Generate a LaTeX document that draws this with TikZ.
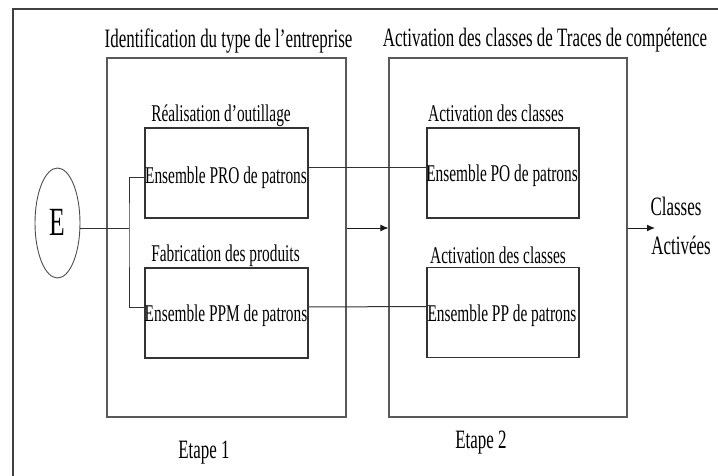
\documentclass[tikz,border=0pt]{standalone}
\usepackage{fontspec}
\setmainfont[FakeStretch=0.64]{Liberation Serif}
\usetikzlibrary{arrows.meta,shapes.geometric}
\begin{document}
\begin{tikzpicture}[x=1pt,y=-1pt,
  frame/.style={draw=black!75, line width=1.4pt},
  bigbox/.style={draw=black!65, line width=1.1pt, inner sep=0pt, minimum height=359pt},
  setbox/.style={draw=black!80, line width=1.1pt, inner sep=0pt, minimum height=90pt},
  conn/.style={draw=black!80, line width=1pt},
  arr/.style={draw=black!90, line width=1pt, -{Latex[length=8pt,width=7pt]}},
  txt/.style={anchor=base, inner sep=0pt, font=\fontsize{24}{28}\selectfont},
  big/.style={anchor=base, inner sep=0pt, font=\fontsize{26.5}{30}\selectfont}]
\useasboundingbox (0,0) rectangle (718,476);
\fill[white] (0,0) rectangle (718,476);
\draw[frame] (13,476) -- (13,9) -- (718,9);

\node[bigbox, minimum width=239pt] (b1) at (226.5,237.5) {};
\node[bigbox, minimum width=238pt] (b2) at (508,237.5) {};
\node[setbox, minimum width=163pt] (pro) at (226.5,173) {};
\node[setbox, minimum width=163pt] (ppm) at (226.5,313) {};
\node[setbox, minimum width=152pt] (po) at (503,173) {};
\node[setbox, minimum width=152pt] (pp) at (503,312.5) {};

\node[big] (t1) at (228.5,48) {Identification du type de l’entreprise};
\node[big] (t2) at (545,47) {Activation des classes de Traces de compétence};
\node[txt] (l1) at (221,122) {Réalisation d’outillage};
\node[txt] (s1) at (226,183) {Ensemble PRO de patrons};
\node[txt] (l2) at (225.5,261) {Fabrication des produits};
\node[txt] (s2) at (226,321) {Ensemble PPM de patrons};
\node[txt] (l3) at (496,122) {Activation des classes};
\node[txt] (s3) at (502,182) {Ensemble PO de patrons};
\node[txt] (l4) at (498,263) {Activation des classes};
\node[txt] (s4) at (502,321) {Ensemble PP de patrons};
\node[big] (e1) at (204,458) {Etape 1};
\node[big] (e2) at (481,448) {Etape 2};
\node[big] (c1) at (676,215) {Classes};
\node[big] (c2) at (681,254) {Activées};

\node[ellipse, draw=black!70, line width=0.9pt, minimum width=45pt, minimum height=110pt, inner sep=0pt] (E) at (57.5,223) {};
\node[anchor=base, inner sep=0pt, font=\fontsize{40}{44}\selectfont] (Et) at (57.5,235) {E};

\coordinate (fork) at (129,228);
\coordinate (out) at (655,228);
\draw[conn] ([yshift=-5pt]E.east) -- (fork);
\draw[conn] ([yshift=-5pt]pro.west) -| (fork) |- ([yshift=6pt]ppm.west);
\draw[conn] ([yshift=5pt]pro.east) -- ([yshift=5pt]po.west);
\draw[conn] ([yshift=6pt]ppm.east) -- ([yshift=6pt]pp.west);
\draw[arr] ([yshift=9.5pt]b1.east) -- ([yshift=9.5pt]b2.west);
\draw[arr] ([yshift=9.5pt]b2.east) -- (out);
\end{tikzpicture}
\end{document}
